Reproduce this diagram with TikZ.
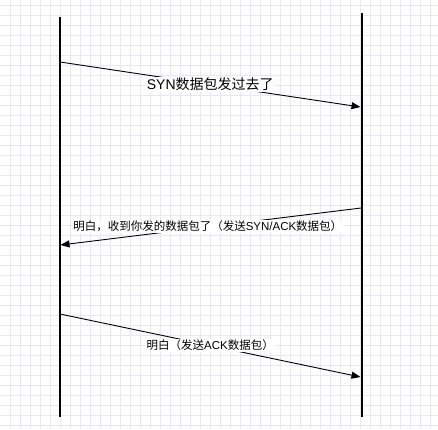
\documentclass[tikz,border=0pt]{standalone}
\usepackage{fontspec}
\setmainfont{Liberation Sans}
\newfontfamily\cjk{Noto Sans CJK SC}
\usetikzlibrary{arrows.meta}
\definecolor{gridcol}{RGB}{232,230,248}

\begin{document}
\begin{tikzpicture}[
        x=1pt, y=-1pt,
        lifeline/.style={line width=2pt, black},
        msg/.style={-{Triangle[length=9pt,width=7pt]}, line width=0.9pt},
        lbl/.style={fill=white, inner sep=1pt, text=black, font=\fontsize{11.5pt}{13pt}\selectfont},
        biglbl/.style={lbl, font=\fontsize{14pt}{16pt}\selectfont}
      ]
        \fill[white] (0,0) rectangle (438,429);
        \useasboundingbox (0,0) rectangle (438,429);
        % background grid
        \foreach \gx in {10,20,...,430} \draw[gridcol, line width=0.8pt] (\gx,0) -- (\gx,429);
        \foreach \gy in {5,15,...,425} \draw[gridcol, line width=0.8pt] (0,\gy) -- (438,\gy);
        % lifelines
        \coordinate (ctop) at (59.5,17);
        \coordinate (cbot) at (59.5,417);
        \coordinate (stop) at (361.5,13);
        \coordinate (sbot) at (361.5,417);
        \draw[lifeline] (ctop) -- (cbot);
        \draw[lifeline] (stop) -- (sbot);
        % message ends
        \coordinate (syn1) at (60,62);
        \coordinate (syn2) at (360.5,107);
        \coordinate (ack1) at (361,208);
        \coordinate (ack2) at (60.5,245);
        \coordinate (fin1) at (60,314);
        \coordinate (fin2) at (360.5,377);
        \draw[msg] (syn1) -- node[biglbl] {SYN{\cjk 数据包发过去了}} (syn2);
        \draw[msg] (ack1) -- node[lbl, xshift=-3pt] {{\cjk 明白，收到你发的数据包了（发送}SYN/ACK{\cjk 数据包）}} (ack2);
        \draw[msg] (fin1) -- node[lbl] {{\cjk 明白（发送}ACK{\cjk 数据包）}} (fin2);
      \end{tikzpicture}
\end{document}
